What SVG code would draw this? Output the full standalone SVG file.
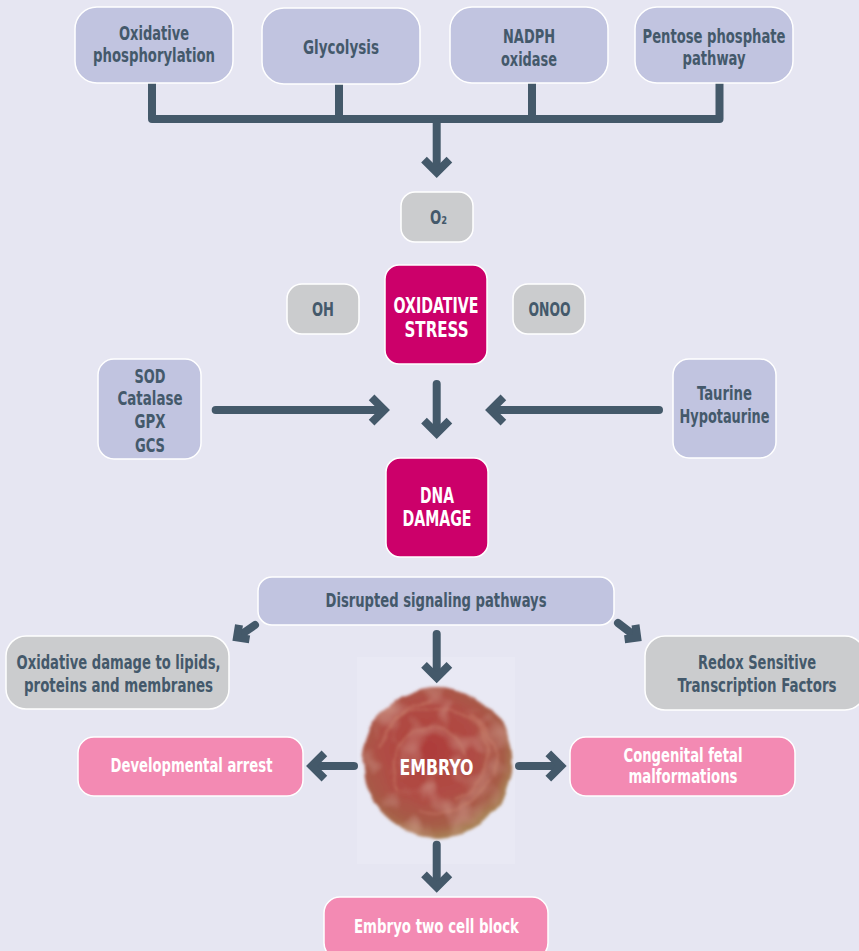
<svg xmlns="http://www.w3.org/2000/svg" width="859" height="951" viewBox="0 0 859 951">
<defs>
<style>
text { font-family: "Liberation Sans Narrow","DejaVu Sans Condensed","DejaVu Sans","Liberation Sans",sans-serif; font-stretch: condensed; font-weight: bold; text-anchor: middle; font-size: 19px; }
.d { fill:#44596B; }
.w { fill:#FFFFFF; }
.big { font-size: 22px; }
.lav { fill:#C1C4E0; stroke:#FFFFFF; stroke-width:1.5; }
.gry { fill:#CBCCCE; stroke:#FFFFFF; stroke-width:1.5; }
.mag { fill:#CC006A; stroke:#FFFFFF; stroke-width:1.5; }
.pnk { fill:#F38AB3; stroke:#FFFFFF; stroke-width:1.5; }
.ln { fill:none; stroke:#44596A; stroke-width:8; stroke-linecap:round; stroke-linejoin:round; }
.hd { fill:none; stroke:#44596A; stroke-width:8; stroke-linecap:butt; stroke-linejoin:miter; stroke-miterlimit:10; }
</style>
<radialGradient id="emb" cx="0.45" cy="0.42" r="0.58">
<stop offset="0" stop-color="#AE3C3A"/>
<stop offset="0.55" stop-color="#B04D45"/>
<stop offset="0.85" stop-color="#A65C47"/>
<stop offset="1" stop-color="#A98256"/>
</radialGradient>
<filter id="rough" x="-20%" y="-20%" width="140%" height="140%">
<feTurbulence type="fractalNoise" baseFrequency="0.045" numOctaves="2" seed="3" result="t"/>
<feDisplacementMap in="SourceGraphic" in2="t" scale="9" xChannelSelector="R" yChannelSelector="G" result="d"/>
<feGaussianBlur in="d" stdDeviation="1.5"/>
</filter>
<filter id="tex" x="0" y="0" width="100%" height="100%">
<feTurbulence type="fractalNoise" baseFrequency="0.04" numOctaves="2" seed="11" result="n"/>
<feColorMatrix in="n" type="matrix" values="0 0 0 0 0.80  0 0 0 0 0.46  0 0 0 0 0.38  0 0 0 0.9 -0.42" result="spots"/>
<feComposite in="spots" in2="SourceGraphic" operator="in" result="s2"/>
<feMerge><feMergeNode in="SourceGraphic"/><feMergeNode in="s2"/></feMerge>
</filter>
</defs>

<rect width="859" height="951" fill="#E6E6F2"/>
<rect x="357" y="657" width="158" height="207" fill="#E9E9F4"/>

<g id="connectors">
<path class="ln" d="M152,80 V119 H719.5 V80 M339,80 V119 M532,80 V119"/>
<path class="ln" d="M436.7,122 V170"/>
<polyline class="hd" points="424,159.6 436.7,172.3 449.4,159.6"/>
<path class="ln" d="M436.7,384 V431"/>
<polyline class="hd" points="424,420.6 436.7,433.3 449.4,420.6"/>
<path class="ln" d="M215.7,410 H382"/>
<polyline class="hd" points="371.6,397.3 384.3,410 371.6,422.7"/>
<path class="ln" d="M659,410 H493"/>
<polyline class="hd" points="503.4,397.3 490.7,410 503.4,422.7"/>
<path class="ln" d="M255,625 L239,636"/>
<polyline class="hd" points="239,624.9 237,637.4 249.5,639.4"/>
<path class="ln" d="M618,623 L635,636"/>
<polyline class="hd" points="635.5,624.9 637.2,637.5 624.6,639.2"/>
<path class="ln" d="M436.7,634 V675"/>
<polyline class="hd" points="424,664.9 436.7,677.6 449.4,664.9"/>
<path class="ln" d="M354,766 H314"/>
<polyline class="hd" points="324.4,753.3 311.7,766 324.4,778.7"/>
<path class="ln" d="M519,766 H558"/>
<polyline class="hd" points="548.3,753.3 561,766 548.3,778.7"/>
<path class="ln" d="M436.7,844.7 V884"/>
<polyline class="hd" points="424,874.3 436.7,887 449.4,874.3"/>
</g>

<g id="oxphos">
<rect class="lav" x="75" y="7" width="158" height="76" rx="22"/>
<text class="d" x="154" y="39.5" textLength="70" lengthAdjust="spacingAndGlyphs">Oxidative</text>
<text class="d" x="154" y="62" textLength="122" lengthAdjust="spacingAndGlyphs">phosphorylation</text>
</g>
<g id="glycolysis">
<rect class="lav" x="262" y="8" width="158" height="76" rx="22"/>
<text class="d" x="341" y="54.3" textLength="76" lengthAdjust="spacingAndGlyphs">Glycolysis</text>
</g>
<g id="nadph">
<rect class="lav" x="450" y="7" width="158" height="76" rx="22"/>
<text class="d" x="529" y="42.5" textLength="52" lengthAdjust="spacingAndGlyphs">NADPH</text>
<text class="d" x="529" y="66" textLength="56" lengthAdjust="spacingAndGlyphs">oxidase</text>
</g>
<g id="pentose">
<rect class="lav" x="635" y="7" width="158" height="76" rx="22"/>
<text class="d" x="714" y="42.5" textLength="143" lengthAdjust="spacingAndGlyphs">Pentose phosphate</text>
<text class="d" x="714" y="65" textLength="63" lengthAdjust="spacingAndGlyphs">pathway</text>
</g>

<g id="o2">
<rect class="gry" x="401" y="192" width="72" height="50" rx="14"/>
<text class="d" x="438.5" y="224" textLength="17" lengthAdjust="spacingAndGlyphs">O₂</text>
</g>

<g id="oh">
<rect class="gry" x="287" y="284" width="72" height="50" rx="15"/>
<text class="d" x="323" y="316" font-size="20" textLength="22" lengthAdjust="spacingAndGlyphs">OH</text>
</g>
<g id="oxidative-stress">
<rect class="mag" x="385" y="265" width="102" height="99" rx="14"/>
<text class="w big" x="436" y="313.3" textLength="85" lengthAdjust="spacingAndGlyphs">OXIDATIVE</text>
<text class="w big" x="436.5" y="337.3" textLength="64" lengthAdjust="spacingAndGlyphs">STRESS</text>
</g>
<g id="onoo">
<rect class="gry" x="513" y="284" width="72" height="50" rx="15"/>
<text class="d" x="549.5" y="315.7" font-size="20" textLength="42" lengthAdjust="spacingAndGlyphs">ONOO</text>
</g>

<g id="sod">
<rect class="lav" x="98" y="359" width="103" height="100" rx="16"/>
<text class="d" x="150" y="383.3" font-size="20" textLength="31" lengthAdjust="spacingAndGlyphs">SOD</text>
<text class="d" x="150" y="405" font-size="20" textLength="65" lengthAdjust="spacingAndGlyphs">Catalase</text>
<text class="d" x="150" y="428" font-size="20" textLength="31" lengthAdjust="spacingAndGlyphs">GPX</text>
<text class="d" x="150" y="451.7" font-size="20" textLength="30" lengthAdjust="spacingAndGlyphs">GCS</text>
</g>
<g id="taurine">
<rect class="lav" x="673" y="359" width="103" height="99" rx="16"/>
<text class="d" x="724.5" y="400" font-size="20" textLength="55" lengthAdjust="spacingAndGlyphs">Taurine</text>
<text class="d" x="724.5" y="422.7" font-size="20" textLength="90" lengthAdjust="spacingAndGlyphs">Hypotaurine</text>
</g>

<g id="dna-damage">
<rect class="mag" x="386" y="458" width="102" height="99" rx="14"/>
<text class="w big" x="437" y="503" textLength="34" lengthAdjust="spacingAndGlyphs">DNA</text>
<text class="w big" x="437" y="526" textLength="69" lengthAdjust="spacingAndGlyphs">DAMAGE</text>
</g>

<g id="disrupted">
<rect class="lav" x="258" y="577" width="356" height="48" rx="14"/>
<text class="d" x="436" y="607.3" font-size="20" textLength="221" lengthAdjust="spacingAndGlyphs">Disrupted signaling pathways</text>
</g>

<g id="oxidative-damage">
<rect class="gry" x="6" y="636" width="223" height="73" rx="20"/>
<text class="d" x="118.5" y="669" font-size="20" textLength="204" lengthAdjust="spacingAndGlyphs">Oxidative damage to lipids,</text>
<text class="d" x="118.5" y="691.7" font-size="20" textLength="189" lengthAdjust="spacingAndGlyphs">proteins and membranes</text>
</g>
<g id="redox">
<rect class="gry" x="645" y="636" width="220" height="74" rx="20"/>
<text class="d" x="757" y="669" font-size="20" textLength="118" lengthAdjust="spacingAndGlyphs">Redox Sensitive</text>
<text class="d" x="757" y="692.3" font-size="20" textLength="159" lengthAdjust="spacingAndGlyphs">Transcription Factors</text>
</g>

<g id="embryo">
<g filter="url(#rough)">
<circle cx="437.5" cy="762" r="75" fill="url(#emb)" filter="url(#tex)"/>
<g fill="none" stroke="#CF8872" stroke-opacity="0.45" stroke-width="2.2">
<path d="M395,720 C420,700 470,705 485,735 C495,760 480,790 455,800"/>
<path d="M400,790 C385,765 395,735 425,728 C450,722 470,745 465,770"/>
<path d="M420,810 C445,820 475,805 490,780"/>
<path d="M380,745 C390,720 410,705 430,700"/>
<path d="M470,715 C490,730 500,755 495,775"/>
</g>
</g>
<text class="w big" x="436.5" y="775" textLength="74" lengthAdjust="spacingAndGlyphs">EMBRYO</text>
</g>

<g id="developmental-arrest">
<rect class="pnk" x="78" y="737" width="225" height="59" rx="16"/>
<text class="w" x="191.5" y="771.7" font-size="20" textLength="162" lengthAdjust="spacingAndGlyphs">Developmental arrest</text>
</g>
<g id="congenital">
<rect class="pnk" x="570" y="737" width="225" height="59" rx="16"/>
<text class="w" x="683" y="761.7" font-size="20" textLength="119" lengthAdjust="spacingAndGlyphs">Congenital fetal</text>
<text class="w" x="683" y="782.7" font-size="20" textLength="109" lengthAdjust="spacingAndGlyphs">malformations</text>
</g>

<g id="two-cell-block">
<rect class="pnk" x="324" y="897" width="224" height="62" rx="16"/>
<text class="w" x="436.5" y="932.7" font-size="20" textLength="165" lengthAdjust="spacingAndGlyphs">Embryo two cell block</text>
</g>
</svg>
